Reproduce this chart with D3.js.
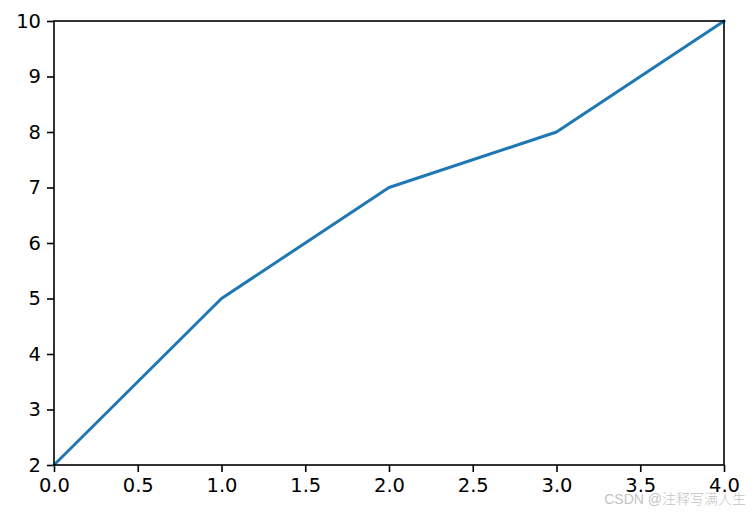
<!DOCTYPE html>
<html><head><meta charset="utf-8">
<script src="https://cdn.jsdelivr.net/npm/d3@7"></script>
<style>html,body{margin:0;padding:0;background:#fff;}svg{display:block;}</style>
</head><body>
<script>
const xValues = [0, 1, 2, 3, 4];
const yValues = [2, 5, 7, 8, 10];
const xTicks = [0, 0.5, 1, 1.5, 2, 2.5, 3, 3.5, 4];
const yTicks = [2, 3, 4, 5, 6, 7, 8, 9, 10];
const watermarkLatin = "CSDN @";
const watermarkCJK = "注释写满人生";

const W = 753, H = 512;
const m = {left: 54, right: 29, top: 21, bottom: 47};
const svg = d3.select("body").append("svg").attr("width", W).attr("height", H);
const x = d3.scaleLinear().domain([0, 4]).range([m.left, W - m.right]);
const y = d3.scaleLinear().domain([2, 10]).range([H - m.bottom, m.top]);

const font = "'DejaVu Sans', sans-serif";
const xAxis = svg.append("g").attr("transform", `translate(0,${H - m.bottom})`)
  .call(d3.axisBottom(x).tickValues(xTicks).tickFormat(d3.format(".1f")).tickSize(7).tickPadding(6).tickSizeOuter(0));
const yAxis = svg.append("g").attr("transform", `translate(${m.left},0)`)
  .call(d3.axisLeft(y).tickValues(yTicks).tickFormat(d3.format("d")).tickSize(7).tickPadding(6).tickSizeOuter(0));
[xAxis, yAxis].forEach(g => {
  g.selectAll("text").attr("font-family", font).attr("font-size", 19.5).attr("fill", "#000");
  g.selectAll("line").attr("stroke", "#000").attr("stroke-width", 1.6);
  g.select(".domain").remove();
});

const line = d3.line().x((d, i) => x(xValues[i])).y(d => y(d));
svg.append("path").datum(yValues).attr("d", line)
  .attr("fill", "none").attr("stroke", "#1f77b4").attr("stroke-width", 3)
  .attr("stroke-linecap", "square").attr("stroke-linejoin", "round");

svg.append("rect").attr("x", m.left).attr("y", m.top)
  .attr("width", W - m.left - m.right).attr("height", H - m.top - m.bottom)
  .attr("fill", "none").attr("stroke", "#000").attr("stroke-width", 1.6);

const wm = svg.append("text").attr("x", 746).attr("y", 504).attr("text-anchor", "end")
  .attr("font-size", 14).attr("fill", "#bbb").attr("fill-opacity", 0.9);
wm.append("tspan").attr("font-family", "'Liberation Sans Narrow', 'Liberation Sans', sans-serif").text(watermarkLatin);
wm.append("tspan").attr("font-family", "'Noto Sans CJK SC', sans-serif").attr("font-weight", 300).text(watermarkCJK);
</script>
</body></html>
